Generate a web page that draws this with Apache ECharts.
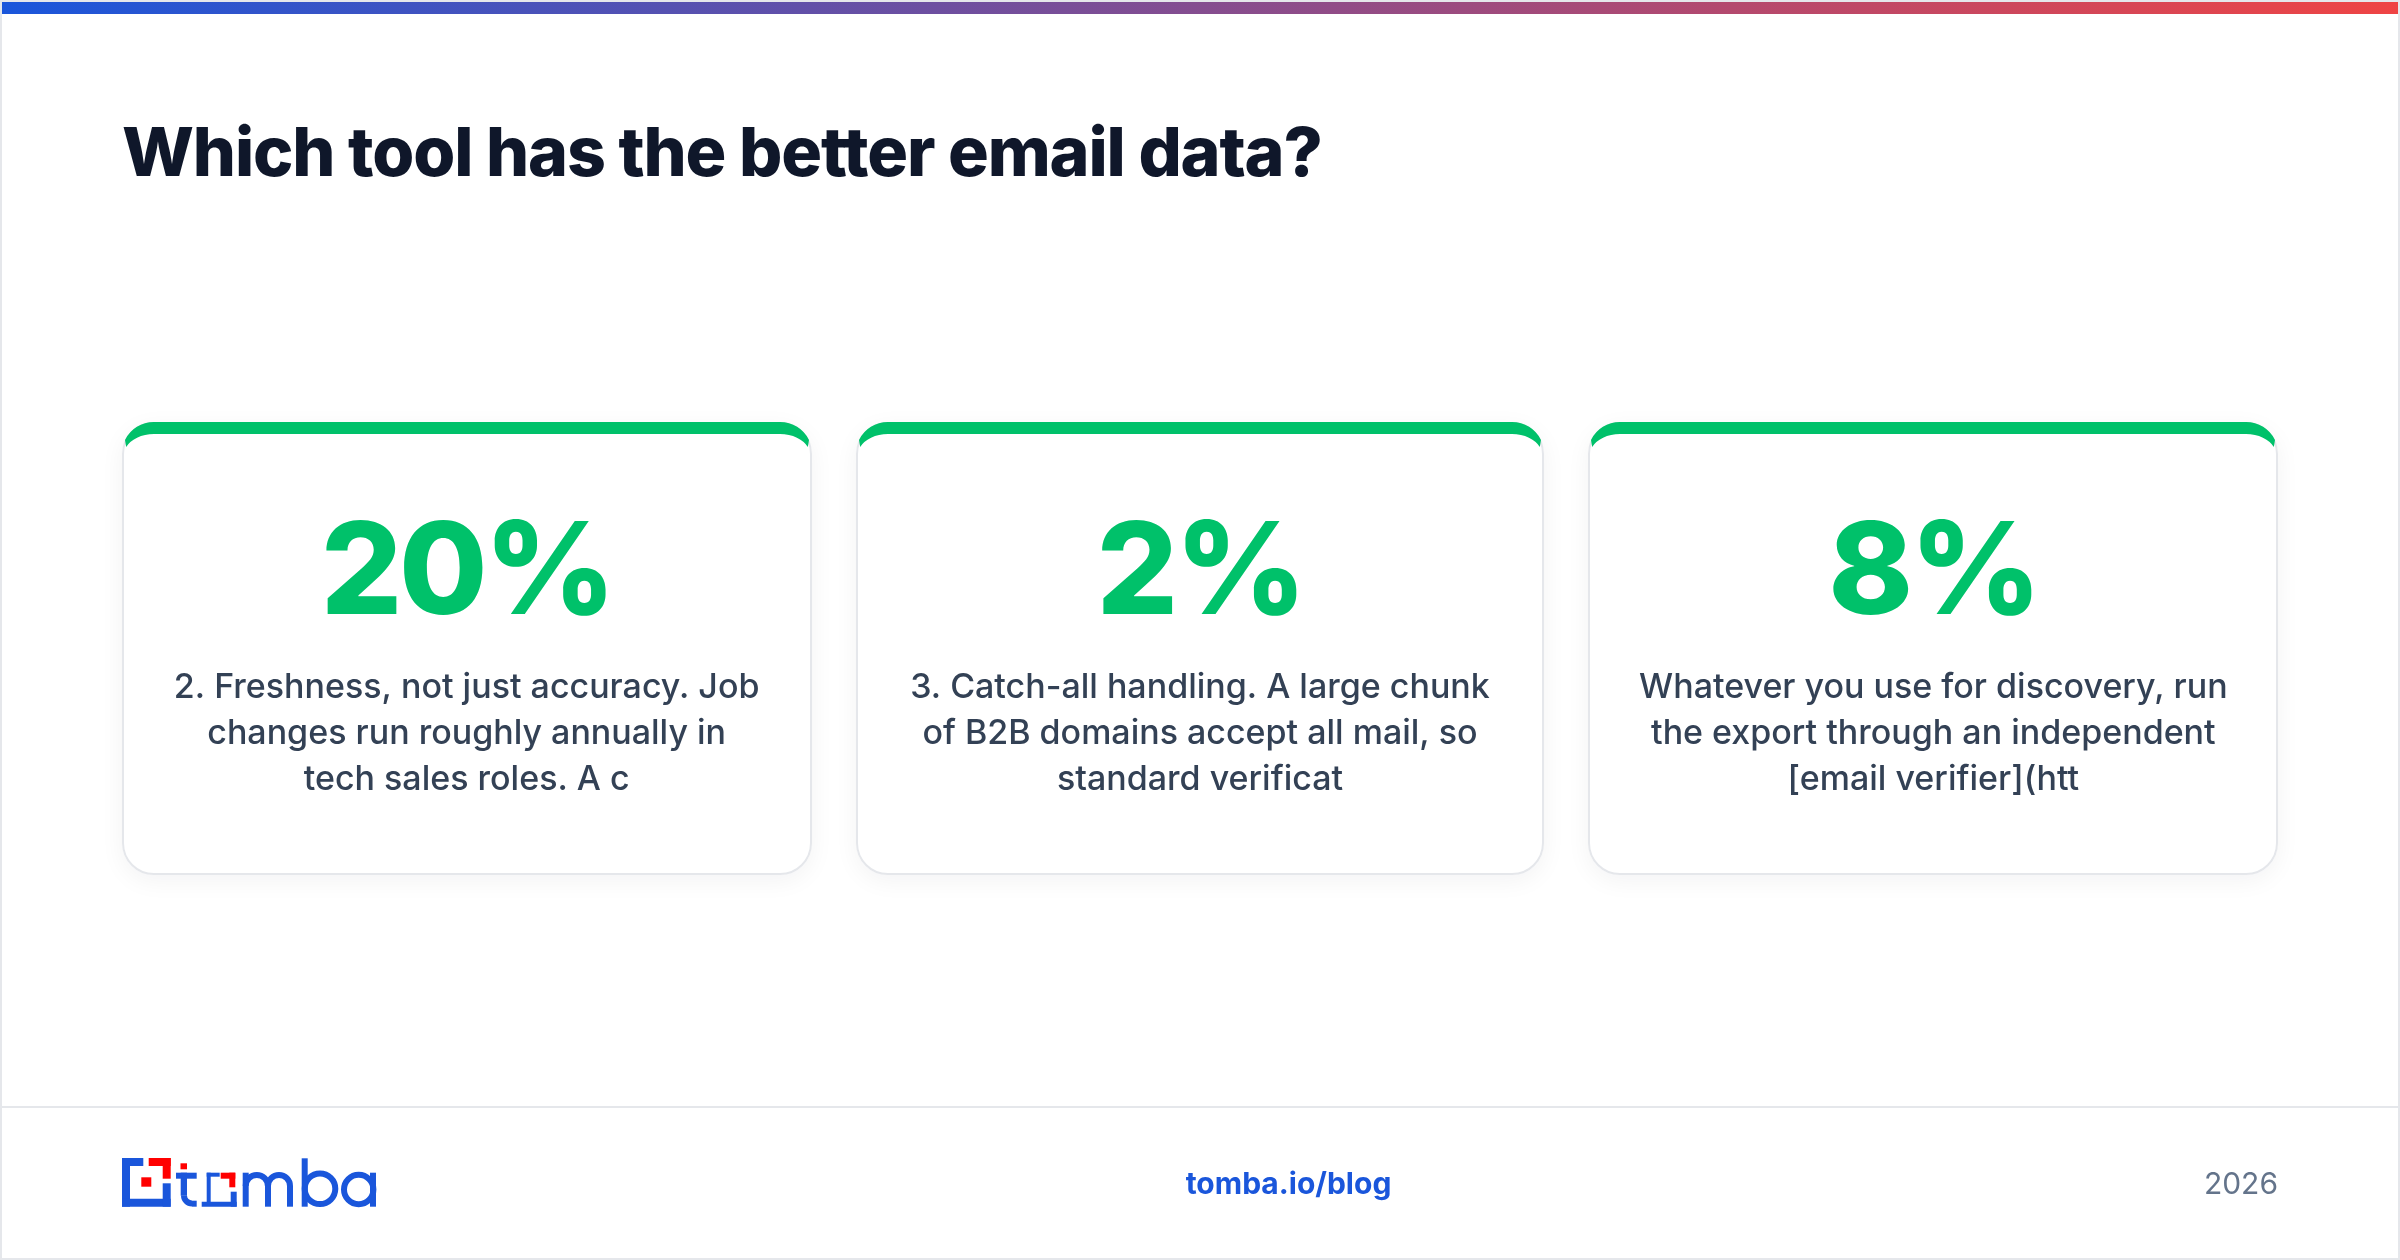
<!DOCTYPE html>
<html><head><meta charset="utf-8">
<style>html,body{margin:0;padding:0;background:#fff}#c{width:2400px;height:1260px}</style>
<script src="https://cdn.jsdelivr.net/npm/echarts@6/dist/echarts.min.js"></script></head>
<body><div id="c"></div>
<script>
const titleText = 'Which tool has the better email data?';
const categories = ['card1','card2','card3'];
const percents = [20, 2, 8];
const descriptions = [
  ['2. Freshness, not just accuracy. Job','changes run roughly annually in','tech sales roles. A c'],
  ['3. Catch-all handling. A large chunk','of B2B domains accept all mail, so','standard verificat'],
  ['Whatever you use for discovery, run','the export through an independent','[email verifier](htt']
];
const footerLink = 'tomba.io/blog';
const footerYear = '2026';

const FONT = 'Inter';
const BLUE = '#1a56db', RED = '#ff0000', GREEN = '#00c16a', BORDER = '#e5e7eb';
const cardWidths = [690, 688, 690];

// tight tracking used by the title and the big numbers
const tracking = {'68px':'-1.15px','128px':'-3.3px'};
const nativeFill = CanvasRenderingContext2D.prototype.fillText;
CanvasRenderingContext2D.prototype.fillText = function(t,x,y,m){
  const hit = Object.keys(tracking).find(k=>this.font.includes(k));
  this.letterSpacing = hit ? tracking[hit] : '0px';
  return m===undefined ? nativeFill.call(this,t,x,y) : nativeFill.call(this,t,x,y,m);
};

const chart = echarts.init(document.getElementById('c'), null, {width:2400,height:1260,devicePixelRatio:1});

function renderCard(params, api){
  const i = api.value(0);
  const cx = api.coord([i, 0])[0];
  const w = cardWidths[i], x = Math.round(cx - w/2), top = 422, h = 453, r = 32;
  const R = x + w;
  const crescent = `M${x+3} ${top+18} A32 32 0 0 1 ${x+32} ${top} L${R-32} ${top} A32 32 0 0 1 ${R-3} ${top+18} L${R-4.2} ${top+25} A30 20 0 0 0 ${R-32} ${top+12} L${x+32} ${top+12} A30 20 0 0 0 ${x+4.2} ${top+25} Z`;
  const children = [
    {type:'rect', shape:{x:x, y:top, width:w, height:h, r:r},
      style:{fill:'#fff', shadowBlur:24, shadowColor:'rgba(15,23,42,0.05)', shadowOffsetY:6}},
    {type:'rect', shape:{x:x+1, y:top+1, width:w-2, height:h-2, r:r-1},
      style:{fill:'#fff', stroke:BORDER, lineWidth:2}},
    {type:'path', shape:{pathData:crescent, x:x+3, y:top, width:w-6, height:25, layout:'cover'}, style:{fill:GREEN}},
    {type:'text', style:{x:cx, y:640, text:api.value(1)+'%', fill:GREEN, font:`800 128px ${FONT}`, textAlign:'center', textVerticalAlign:'bottom'}}
  ];
  descriptions[i].forEach((t,k)=>children.push({type:'text', style:{x:cx, y:705+46*k, text:t, fill:'#334155', font:`500 34px ${FONT}`, textAlign:'center', textVerticalAlign:'bottom'}}));
  return {type:'group', children};
}

// logo pieces: [x, y, w, h, colour]
const logoRects = [
  [122,1158,8,48.7,BLUE],[122,1158,21.3,8,BLUE],[122,1198.7,48.7,8,BLUE],[162.7,1183.3,8,23.4,BLUE],
  [148.7,1158,22,8,RED],[162.7,1158,8,20.7,RED],[141.3,1177.3,10,9.4,RED],
  [180.5,1163.3,6.5,6,RED],[180.7,1172.7,6.3,23,BLUE],[176,1172.7,20.7,6,BLUE],[192,1200.7,4.7,6,BLUE],
  [206.7,1172.7,4,30,BLUE],[206.7,1172.7,13,4,BLUE],[201.7,1201.7,35,5,BLUE],[230.7,1191.7,6,15,BLUE],
  [220.7,1172.7,14.6,6,RED],[229.3,1172.7,6,14.6,RED],
  [242.7,1172.7,6,34,BLUE],[265,1186,6,20.7,BLUE],[287,1186,6,20.7,BLUE],
  [301.7,1158.3,6,48.4,BLUE],[370,1172.7,6,34,BLUE]
];
const logoArcs = [ // cx, cy, r, start, end
  [192,1195.5,8,Math.PI/2,Math.PI],[256.8,1186,11.1,Math.PI,Math.PI*2],[279,1186,11,Math.PI,Math.PI*2]
];
const logoRings = [[320,1188.7,15.3],[358.7,1189.5,14.7]];

const logo = [
  ...logoRects.map(([x,y,width,height,fill])=>({type:'rect',z:11,shape:{x,y,width,height},style:{fill}})),
  ...logoArcs.map(([cx,cy,r,startAngle,endAngle])=>({type:'arc',z:11,shape:{cx,cy,r,startAngle,endAngle,clockwise:true},style:{fill:'none',stroke:BLUE,lineWidth:6}})),
  ...logoRings.map(([cx,cy,r])=>({type:'circle',z:11,shape:{cx,cy,r},style:{fill:'none',stroke:BLUE,lineWidth:6}}))
];

chart.setOption({
  animation:false,
  backgroundColor:'#fff',
  title:{text:titleText, left:122, top:114, padding:0, textStyle:{fontFamily:FONT, fontWeight:800, fontSize:68, color:'#0f172a', lineHeight:84}},
  grid:{left:100, width:2200, top:422, height:453},
  xAxis:{type:'category', data:categories, show:false},
  yAxis:{type:'value', show:false, min:0, max:100},
  series:[{type:'custom', coordinateSystem:'cartesian2d', renderItem:renderCard, data:percents.map((v,i)=>[i,v]), encode:{x:0,y:1}, clip:false}],
  graphic:[
    {type:'rect', z:10, shape:{x:0,y:0,width:2400,height:1260}, style:{fill:'none', stroke:BORDER, lineWidth:4}},
    {type:'rect', z:11, shape:{x:2,y:2,width:2396,height:12}, style:{fill:new echarts.graphic.LinearGradient(0,0,1,0,[{offset:0,color:'#1a56db'},{offset:1,color:'#ef4444'}])}},
    {type:'rect', z:11, shape:{x:2,y:1106,width:2396,height:2}, style:{fill:BORDER}},
    {type:'text', z:11, style:{x:1288.5,y:1200,text:footerLink,fill:BLUE,font:`700 30px ${FONT}`,textAlign:'center',textVerticalAlign:'bottom'}},
    {type:'text', z:11, style:{x:2278,y:1200,text:footerYear,fill:'#64748b',font:`400 30px ${FONT}`,textAlign:'right',textVerticalAlign:'bottom'}},
    ...logo
  ]
});
</script></body></html>
